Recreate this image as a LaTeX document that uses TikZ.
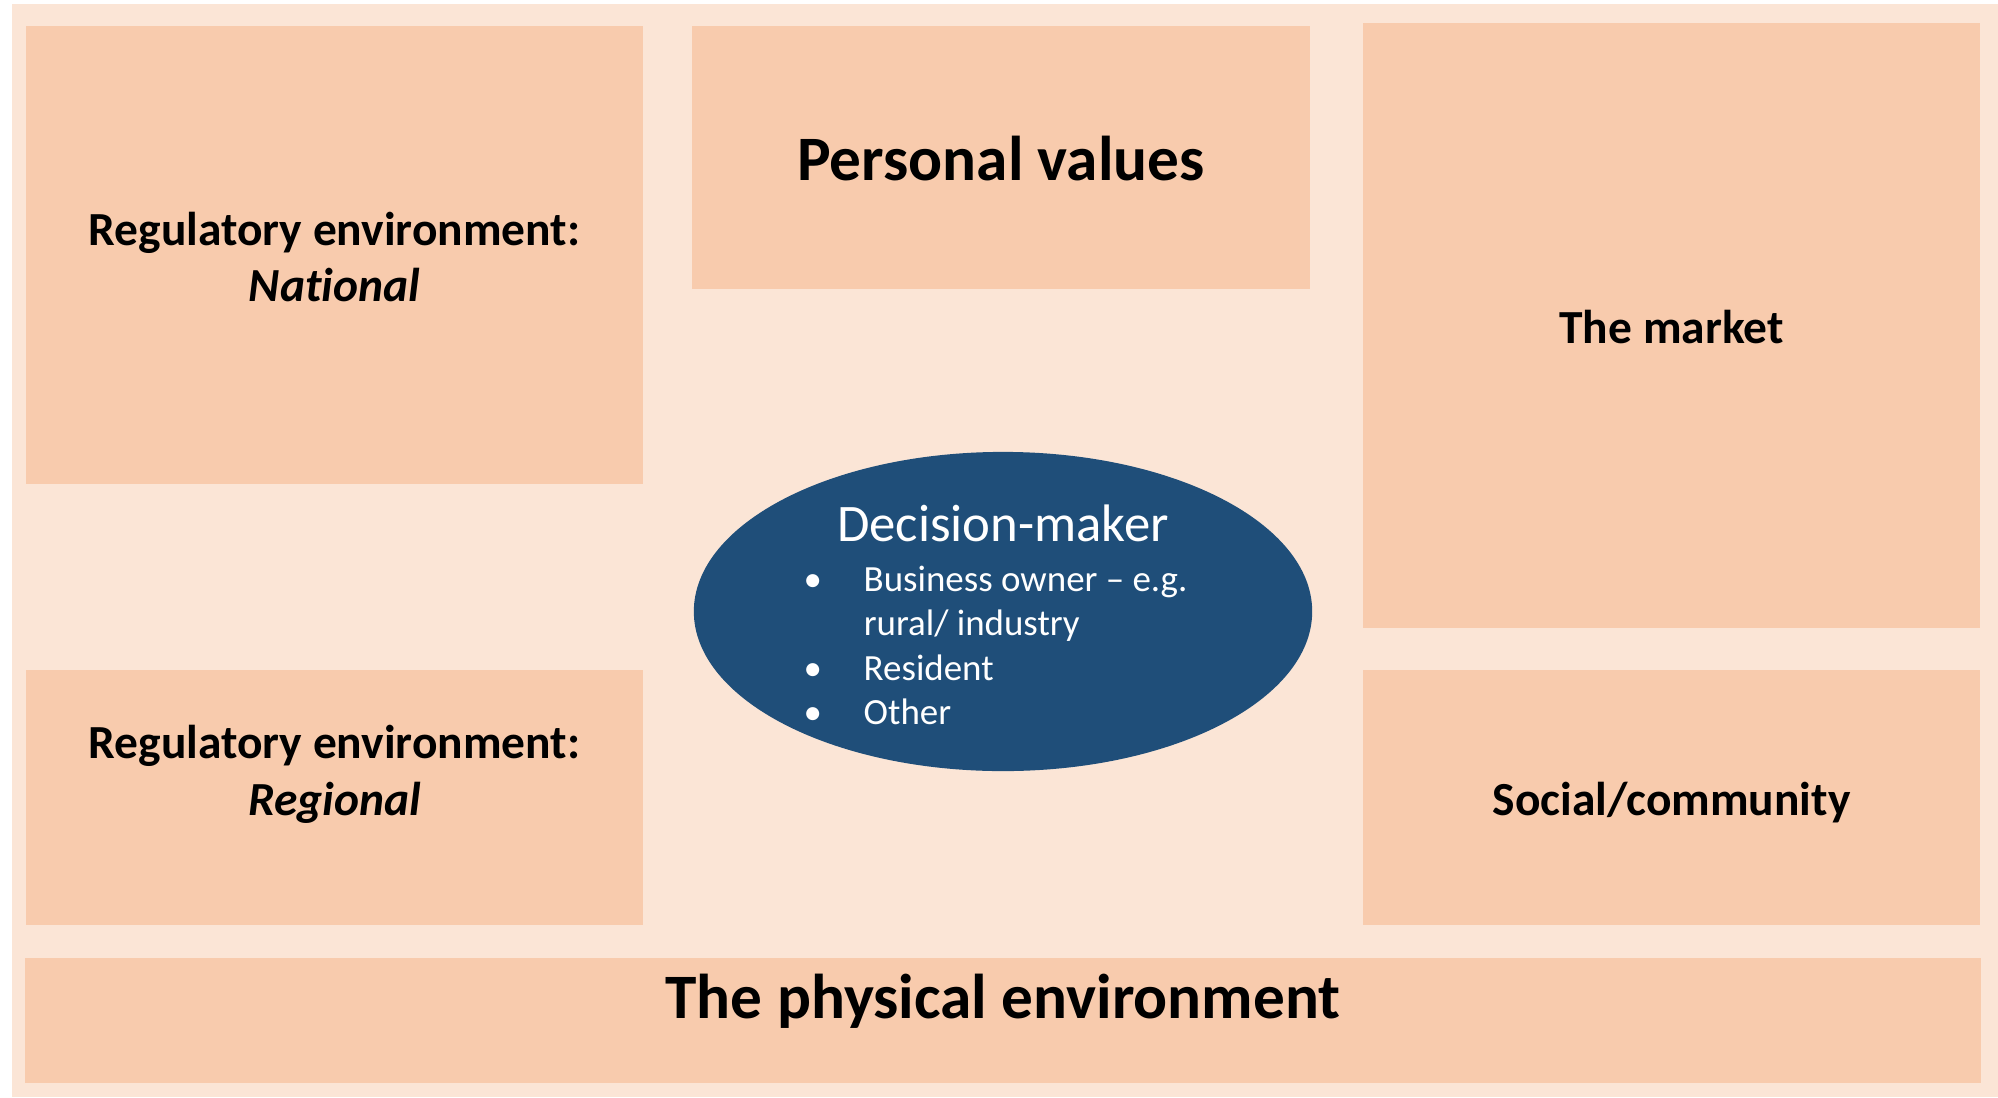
\documentclass[tikz,border=0pt]{standalone}
\usepackage{fontspec}
\setmainfont{Carlito}[Ligatures={TeX,NoCommon}]
\usetikzlibrary{shapes.geometric, positioning}
\definecolor{pagebg}{RGB}{251,229,214}
\definecolor{tilefill}{RGB}{248,203,173}
\definecolor{dmblue}{RGB}{31,78,121}

\begin{document}
\begin{tikzpicture}[
    x=0.01cm, y=-0.01cm,
    tile/.style={fill=tilefill, inner sep=0pt, minimum width=6.17cm},
    tiletext/.style={font=\bfseries\fontsize{13.5}{16.2}\selectfont, align=center, inner sep=0pt},
    bigtext/.style={font=\bfseries\fontsize{18}{21.6}\selectfont, inner sep=0pt},
    decision/.style={ellipse, fill=dmblue, inner sep=0pt, minimum width=6.18cm, minimum height=3.19cm}
]
    \useasboundingbox (0,0) rectangle (1998,1097);
    % page background
    \fill[pagebg] (12,4) rectangle (1998,1097);

    % left column
    \node[tile, minimum height=4.58cm] (nat) at (334.5,255) {};
    \node[tiletext, yshift=-0.02cm] (natText) at (nat) {Regulatory environment:\\\textit{National}};
    \node[tile, minimum height=2.55cm] (reg) at (334.5,797.5) {};
    \node[tiletext, yshift=0.23cm] (regText) at (reg) {Regulatory environment:\\\textit{Regional}};

    % middle column
    \node[tile, minimum width=6.18cm, minimum height=2.63cm] (values) at (1001,157.5) {};
    \node[bigtext, anchor=base] (valuesText) at (1001,180.5) {Personal values};

    % right column
    \node[tile, minimum height=6.05cm] (market) at (1671.5,325.5) {};
    \node[tiletext, anchor=base] (marketText) at (1671.5,343.5) {The market};
    \node[tile, minimum height=2.55cm] (social) at (1671.5,797.5) {};
    \node[tiletext, anchor=base] (socialText) at (1671.5,815.5) {Social/community};

    % bottom strip
    \node[tile, minimum width=19.54cm, minimum height=1.25cm] (physical) at (1003,1020.5) {};
    \node[bigtext, anchor=base] (physicalText) at (1003,1018.5) {The physical environment};

    % decision-maker
    \node[decision] (dm) at (1003,611.5) {};
    \node[anchor=base, text=white, inner sep=0pt, font=\fontsize{15}{18}\selectfont] (dmTitle) at (1003,541.5) {Decision-maker};
    \node[anchor=base west, text=white, inner sep=0pt, font=\fontsize{10.5}{12.67}\selectfont] (dmList) at (803,591) {%
        \begin{tabular}[t]{@{}p{0.6cm}@{}l@{}}
        • & Business owner -- e.g.\\
          & rural/ industry\\
        • & Resident\\
        • & Other
        \end{tabular}};
\end{tikzpicture}
\end{document}
